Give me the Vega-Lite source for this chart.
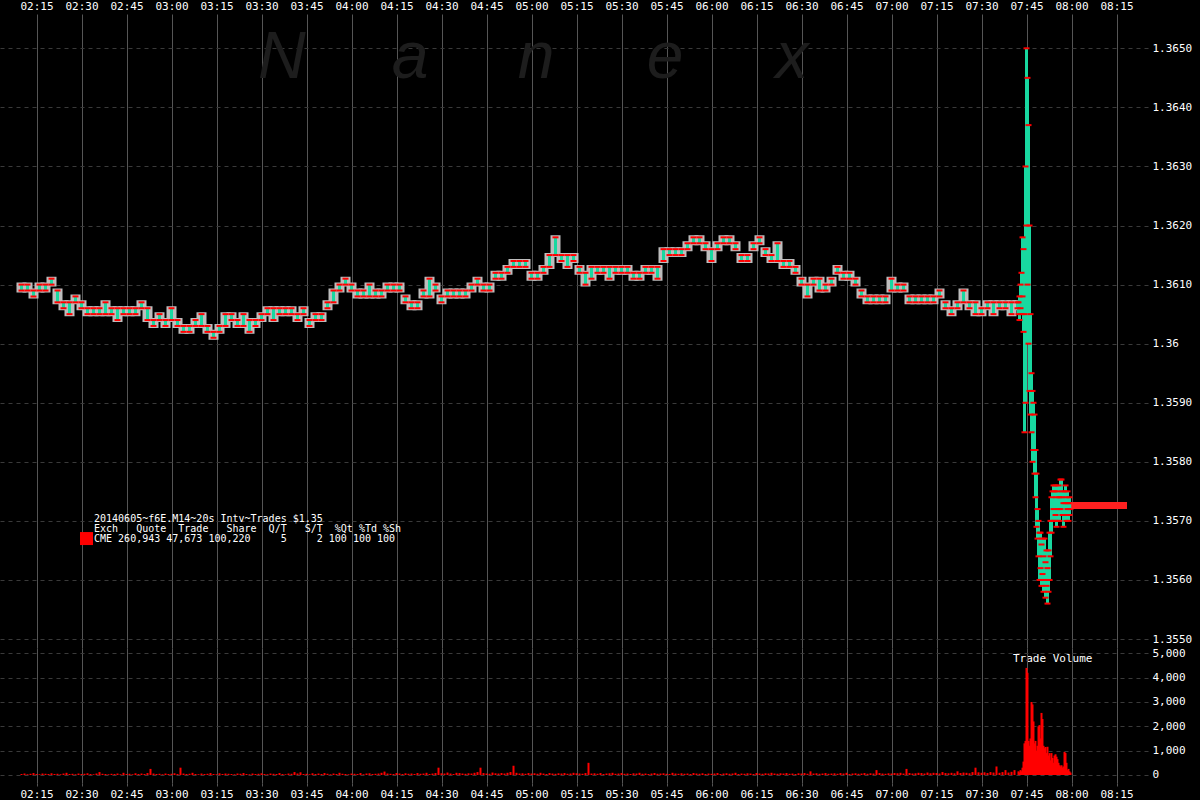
{
"$schema": "https://vega.github.io/schema/vega-lite/v6.json",
"background": "#000000",
"padding": 0,
"autosize": {"type": "pad"},
"spacing": 0,
"bounds": "flush",
"config": {"view": {"stroke": null}, "axis": {"domain": false, "ticks": false, "labelColor": "#ffffff", "labelFont": "DejaVu Sans Mono", "labelFontSize": 11, "labelFlush": false, "labelOverlap": false}},
"resolve": {"scale": {"x": "independent", "y": "independent"}},
"datasets": {
"px": [
{"t":130,"l":1.3609,"h":1.3610},{"t":132,"l":1.3609,"h":1.3610},{"t":134,"l":1.3608,"h":1.3609},{"t":136,"l":1.3609,"h":1.3610},{"t":138,"l":1.3609,"h":1.3610},
{"t":140,"l":1.3610,"h":1.3611},{"t":142,"l":1.3607,"h":1.3609},{"t":144,"l":1.3606,"h":1.3607},{"t":146,"l":1.3605,"h":1.3607},{"t":148,"l":1.3607,"h":1.3608},
{"t":150,"l":1.3606,"h":1.3607},{"t":152,"l":1.3605,"h":1.3606},{"t":154,"l":1.3605,"h":1.3606},{"t":156,"l":1.3605,"h":1.3606},{"t":158,"l":1.3605,"h":1.3607},
{"t":160,"l":1.3605,"h":1.3606},{"t":162,"l":1.3604,"h":1.3606},{"t":164,"l":1.3605,"h":1.3606},{"t":166,"l":1.3605,"h":1.3606},{"t":168,"l":1.3605,"h":1.3606},
{"t":170,"l":1.3606,"h":1.3607},{"t":172,"l":1.3604,"h":1.3606},{"t":174,"l":1.3603,"h":1.3604},{"t":176,"l":1.3604,"h":1.3605},{"t":178,"l":1.3603,"h":1.3604},
{"t":180,"l":1.3604,"h":1.3606},{"t":182,"l":1.3603,"h":1.3604},{"t":184,"l":1.3602,"h":1.3603},{"t":186,"l":1.3602,"h":1.3603},{"t":188,"l":1.3603,"h":1.3604},
{"t":190,"l":1.3603,"h":1.3605},{"t":192,"l":1.3602,"h":1.3603},{"t":194,"l":1.3601,"h":1.3602},{"t":196,"l":1.3602,"h":1.3603},{"t":198,"l":1.3603,"h":1.3605},
{"t":200,"l":1.3604,"h":1.3605},{"t":202,"l":1.3603,"h":1.3604},{"t":204,"l":1.3603,"h":1.3605},{"t":206,"l":1.3602,"h":1.3604},{"t":208,"l":1.3603,"h":1.3604},
{"t":210,"l":1.3604,"h":1.3605},{"t":212,"l":1.3605,"h":1.3606},{"t":214,"l":1.3604,"h":1.3606},{"t":216,"l":1.3605,"h":1.3606},{"t":218,"l":1.3605,"h":1.3606},
{"t":220,"l":1.3605,"h":1.3606},{"t":222,"l":1.3604,"h":1.3605},{"t":224,"l":1.3605,"h":1.3606},{"t":226,"l":1.3603,"h":1.3604},{"t":228,"l":1.3604,"h":1.3605},
{"t":230,"l":1.3604,"h":1.3605},{"t":232,"l":1.3606,"h":1.3607},{"t":234,"l":1.3607,"h":1.3609},{"t":236,"l":1.3609,"h":1.3610},{"t":238,"l":1.3610,"h":1.3611},
{"t":240,"l":1.3609,"h":1.3610},{"t":242,"l":1.3608,"h":1.3609},{"t":244,"l":1.3608,"h":1.3609},{"t":246,"l":1.3608,"h":1.3610},{"t":248,"l":1.3608,"h":1.3609},
{"t":250,"l":1.3608,"h":1.3609},{"t":252,"l":1.3609,"h":1.3610},{"t":254,"l":1.3609,"h":1.3610},{"t":256,"l":1.3609,"h":1.3610},{"t":258,"l":1.3607,"h":1.3608},
{"t":260,"l":1.3606,"h":1.3607},{"t":262,"l":1.3606,"h":1.3607},{"t":264,"l":1.3608,"h":1.3609},{"t":266,"l":1.3608,"h":1.3611},{"t":268,"l":1.3609,"h":1.3610},
{"t":270,"l":1.3607,"h":1.3608},{"t":272,"l":1.3608,"h":1.3609},{"t":274,"l":1.3608,"h":1.3609},{"t":276,"l":1.3608,"h":1.3609},{"t":278,"l":1.3608,"h":1.3609},
{"t":280,"l":1.3609,"h":1.3610},{"t":282,"l":1.3610,"h":1.3611},{"t":284,"l":1.3609,"h":1.3610},{"t":286,"l":1.3609,"h":1.3610},{"t":288,"l":1.3611,"h":1.3612},
{"t":290,"l":1.3611,"h":1.3612},{"t":292,"l":1.3612,"h":1.3613},{"t":294,"l":1.3613,"h":1.3614},{"t":296,"l":1.3613,"h":1.3614},{"t":298,"l":1.3613,"h":1.3614},
{"t":300,"l":1.3611,"h":1.3612},{"t":302,"l":1.3611,"h":1.3612},{"t":304,"l":1.3612,"h":1.3613},{"t":306,"l":1.3613,"h":1.3615},{"t":308,"l":1.3615,"h":1.3618},
{"t":310,"l":1.3614,"h":1.3615},{"t":312,"l":1.3613,"h":1.3615},{"t":314,"l":1.3614,"h":1.3615},{"t":316,"l":1.3612,"h":1.3613},{"t":318,"l":1.3610,"h":1.3612},
{"t":320,"l":1.3611,"h":1.3613},{"t":322,"l":1.3612,"h":1.3613},{"t":324,"l":1.3612,"h":1.3613},{"t":326,"l":1.3611,"h":1.3613},{"t":328,"l":1.3612,"h":1.3613},
{"t":330,"l":1.3612,"h":1.3613},{"t":332,"l":1.3612,"h":1.3613},{"t":334,"l":1.3611,"h":1.3612},{"t":336,"l":1.3611,"h":1.3612},{"t":338,"l":1.3612,"h":1.3613},
{"t":340,"l":1.3612,"h":1.3613},{"t":342,"l":1.3611,"h":1.3613},{"t":344,"l":1.3614,"h":1.3616},{"t":346,"l":1.3615,"h":1.3616},{"t":348,"l":1.3615,"h":1.3616},
{"t":350,"l":1.3615,"h":1.3616},{"t":352,"l":1.3616,"h":1.3617},{"t":354,"l":1.3617,"h":1.3618},{"t":356,"l":1.3617,"h":1.3618},{"t":358,"l":1.3616,"h":1.3617},
{"t":360,"l":1.3614,"h":1.3616},{"t":362,"l":1.3616,"h":1.3617},{"t":364,"l":1.3617,"h":1.3618},{"t":366,"l":1.3617,"h":1.3618},{"t":368,"l":1.3616,"h":1.3617},
{"t":370,"l":1.3614,"h":1.3615},{"t":372,"l":1.3614,"h":1.3615},{"t":374,"l":1.3616,"h":1.3617},{"t":376,"l":1.3617,"h":1.3618},{"t":378,"l":1.3615,"h":1.3616},
{"t":380,"l":1.3614,"h":1.3615},{"t":382,"l":1.3614,"h":1.3617},{"t":384,"l":1.3613,"h":1.3614},{"t":386,"l":1.3613,"h":1.3614},{"t":388,"l":1.3612,"h":1.3613},
{"t":390,"l":1.3610,"h":1.3611},{"t":392,"l":1.3608,"h":1.3610},{"t":394,"l":1.3610,"h":1.3611},{"t":396,"l":1.3609,"h":1.3611},{"t":398,"l":1.3609,"h":1.3610},
{"t":400,"l":1.3610,"h":1.3611},{"t":402,"l":1.3612,"h":1.3613},{"t":404,"l":1.3611,"h":1.3612},{"t":406,"l":1.3611,"h":1.3612},{"t":408,"l":1.3610,"h":1.3611},
{"t":410,"l":1.3608,"h":1.3609},{"t":412,"l":1.3607,"h":1.3608},{"t":414,"l":1.3607,"h":1.3608},{"t":416,"l":1.3607,"h":1.3608},{"t":418,"l":1.3607,"h":1.3608},
{"t":420,"l":1.3609,"h":1.3611},{"t":422,"l":1.3609,"h":1.3610},{"t":424,"l":1.3609,"h":1.3610},{"t":426,"l":1.3607,"h":1.3608},{"t":428,"l":1.3607,"h":1.3608},
{"t":430,"l":1.3607,"h":1.3608},{"t":432,"l":1.3607,"h":1.3608},{"t":434,"l":1.3607,"h":1.3608},{"t":436,"l":1.3608,"h":1.3609},{"t":438,"l":1.3606,"h":1.3607},
{"t":440,"l":1.3605,"h":1.3606},{"t":442,"l":1.3606,"h":1.3607},{"t":444,"l":1.3607,"h":1.3609},{"t":446,"l":1.3606,"h":1.3607},{"t":448,"l":1.3605,"h":1.3607},
{"t":450,"l":1.3605,"h":1.3606},{"t":452,"l":1.3606,"h":1.3607},{"t":454,"l":1.3605,"h":1.3607},{"t":456,"l":1.3606,"h":1.3607},{"t":458,"l":1.3606,"h":1.3607},
{"t":460,"l":1.3605,"h":1.3607},{"t":462,"l":1.3606,"h":1.3607},
{"t":462.33,"l":1.3605,"h":1.3607},{"t":462.67,"l":1.3604,"h":1.3608},{"t":463,"l":1.3606,"h":1.3610},{"t":463.33,"l":1.3605,"h":1.3612},{"t":463.67,"l":1.3608,"h":1.3618},
{"t":464,"l":1.3602,"h":1.3616},{"t":464.33,"l":1.3585,"h":1.3605},{"t":464.67,"l":1.3590,"h":1.3630},{"t":465,"l":1.3620,"h":1.3650},{"t":465.33,"l":1.3610,"h":1.3645},
{"t":465.67,"l":1.3600,"h":1.3637},{"t":466,"l":1.3592,"h":1.3620},{"t":466.33,"l":1.3588,"h":1.3605},{"t":466.67,"l":1.3585,"h":1.3595},{"t":467,"l":1.3580,"h":1.3592},
{"t":467.33,"l":1.3582,"h":1.3590},{"t":467.67,"l":1.3578,"h":1.3588},{"t":468,"l":1.3574,"h":1.3582},{"t":468.33,"l":1.3569,"h":1.3578},{"t":468.67,"l":1.3567,"h":1.3572},
{"t":469,"l":1.3564,"h":1.3570},{"t":469.33,"l":1.3560,"h":1.3568},{"t":469.67,"l":1.3562,"h":1.3568},{"t":470,"l":1.3559,"h":1.3566},{"t":470.33,"l":1.3561,"h":1.3567},
{"t":470.67,"l":1.3558,"h":1.3564},{"t":471,"l":1.3560,"h":1.3567},{"t":471.33,"l":1.3557,"h":1.3563},{"t":471.67,"l":1.3559,"h":1.3565},{"t":472,"l":1.3556,"h":1.3562},
{"t":472.33,"l":1.3558,"h":1.3565},{"t":472.67,"l":1.3560,"h":1.3568},{"t":473,"l":1.3564,"h":1.3570},{"t":473.33,"l":1.3568,"h":1.3574},{"t":473.67,"l":1.3570,"h":1.3575},
{"t":474,"l":1.3572,"h":1.3576},{"t":474.33,"l":1.3570,"h":1.3575},{"t":474.67,"l":1.3571,"h":1.3576},{"t":475,"l":1.3569,"h":1.3574},{"t":475.33,"l":1.3570,"h":1.3575},
{"t":475.67,"l":1.3572,"h":1.3576},{"t":476,"l":1.3570,"h":1.3574},{"t":476.33,"l":1.3572,"h":1.3577},{"t":476.67,"l":1.3574,"h":1.3577},{"t":477,"l":1.3571,"h":1.3575},
{"t":477.33,"l":1.3569,"h":1.3573},{"t":477.67,"l":1.3571,"h":1.3575},{"t":478,"l":1.3573,"h":1.3576},{"t":478.33,"l":1.3570,"h":1.3574},{"t":478.67,"l":1.3572,"h":1.3575},
{"t":479,"l":1.3570,"h":1.3573},{"t":479.33,"l":1.3571,"h":1.3574},{"t":479.67,"l":1.3572,"h":1.3573}
],
"vol": [
{"t":130,"v":40},{"t":131,"v":60},{"t":132,"v":30},{"t":133,"v":50},{"t":134,"v":80},{"t":135,"v":40},{"t":136,"v":30},{"t":137,"v":60},{"t":138,"v":50},{"t":139,"v":40},
{"t":140,"v":70},{"t":141,"v":40},{"t":142,"v":50},{"t":143,"v":30},{"t":144,"v":60},{"t":145,"v":90},{"t":146,"v":40},{"t":147,"v":50},{"t":148,"v":30},{"t":149,"v":60},
{"t":150,"v":40},{"t":151,"v":50},{"t":152,"v":70},{"t":153,"v":40},{"t":154,"v":30},{"t":155,"v":60},{"t":156,"v":120},{"t":157,"v":50},{"t":158,"v":40},{"t":159,"v":30},
{"t":160,"v":50},{"t":161,"v":40},{"t":162,"v":60},{"t":163,"v":30},{"t":164,"v":90},{"t":165,"v":40},{"t":166,"v":50},{"t":167,"v":30},{"t":168,"v":70},{"t":169,"v":40},
{"t":170,"v":60},{"t":171,"v":40},{"t":172,"v":80},{"t":173,"v":250},{"t":174,"v":60},{"t":175,"v":40},{"t":176,"v":50},{"t":177,"v":30},{"t":178,"v":60},{"t":179,"v":40},
{"t":180,"v":50},{"t":181,"v":70},{"t":182,"v":40},{"t":183,"v":300},{"t":184,"v":60},{"t":185,"v":40},{"t":186,"v":50},{"t":187,"v":90},{"t":188,"v":40},{"t":189,"v":30},
{"t":190,"v":60},{"t":191,"v":40},{"t":192,"v":50},{"t":193,"v":80},{"t":194,"v":40},{"t":195,"v":30},{"t":196,"v":70},{"t":197,"v":40},{"t":198,"v":60},{"t":199,"v":50},
{"t":200,"v":40},{"t":201,"v":30},{"t":202,"v":60},{"t":203,"v":50},{"t":204,"v":80},{"t":205,"v":40},{"t":206,"v":30},{"t":207,"v":60},{"t":208,"v":40},{"t":209,"v":50},
{"t":210,"v":70},{"t":211,"v":40},{"t":212,"v":30},{"t":213,"v":60},{"t":214,"v":50},{"t":215,"v":40},{"t":216,"v":80},{"t":217,"v":40},{"t":218,"v":30},{"t":219,"v":60},
{"t":220,"v":50},{"t":221,"v":120},{"t":222,"v":60},{"t":223,"v":110},{"t":224,"v":40},{"t":225,"v":50},{"t":226,"v":30},{"t":227,"v":70},{"t":228,"v":40},{"t":229,"v":60},
{"t":230,"v":40},{"t":231,"v":80},{"t":232,"v":50},{"t":233,"v":30},{"t":234,"v":60},{"t":235,"v":40},{"t":236,"v":90},{"t":237,"v":50},{"t":238,"v":40},{"t":239,"v":30},
{"t":240,"v":60},{"t":241,"v":50},{"t":242,"v":40},{"t":243,"v":80},{"t":244,"v":30},{"t":245,"v":60},{"t":246,"v":70},{"t":247,"v":40},{"t":248,"v":50},{"t":249,"v":60},
{"t":250,"v":90},{"t":251,"v":140},{"t":252,"v":60},{"t":253,"v":50},{"t":254,"v":40},{"t":255,"v":80},{"t":256,"v":60},{"t":257,"v":40},{"t":258,"v":70},{"t":259,"v":50},
{"t":260,"v":60},{"t":261,"v":40},{"t":262,"v":80},{"t":263,"v":50},{"t":264,"v":60},{"t":265,"v":90},{"t":266,"v":40},{"t":267,"v":60},{"t":268,"v":80},{"t":269,"v":300},
{"t":270,"v":70},{"t":271,"v":60},{"t":272,"v":100},{"t":273,"v":60},{"t":274,"v":40},{"t":275,"v":90},{"t":276,"v":80},{"t":277,"v":60},{"t":278,"v":50},{"t":279,"v":70},
{"t":280,"v":60},{"t":281,"v":90},{"t":282,"v":120},{"t":283,"v":300},{"t":284,"v":80},{"t":285,"v":60},{"t":286,"v":50},{"t":287,"v":100},{"t":288,"v":70},{"t":289,"v":60},
{"t":290,"v":80},{"t":291,"v":60},{"t":292,"v":90},{"t":293,"v":120},{"t":294,"v":380},{"t":295,"v":90},{"t":296,"v":60},{"t":297,"v":70},{"t":298,"v":50},{"t":299,"v":80},
{"t":300,"v":60},{"t":301,"v":70},{"t":302,"v":50},{"t":303,"v":90},{"t":304,"v":60},{"t":305,"v":40},{"t":306,"v":80},{"t":307,"v":60},{"t":308,"v":50},{"t":309,"v":70},
{"t":310,"v":60},{"t":311,"v":80},{"t":312,"v":50},{"t":313,"v":60},{"t":314,"v":90},{"t":315,"v":70},{"t":316,"v":60},{"t":317,"v":50},{"t":318,"v":80},{"t":319,"v":500},
{"t":320,"v":60},{"t":321,"v":70},{"t":322,"v":50},{"t":323,"v":80},{"t":324,"v":40},{"t":325,"v":60},{"t":326,"v":70},{"t":327,"v":90},{"t":328,"v":50},{"t":329,"v":60},
{"t":330,"v":80},{"t":331,"v":50},{"t":332,"v":60},{"t":333,"v":40},{"t":334,"v":70},{"t":335,"v":60},{"t":336,"v":90},{"t":337,"v":50},{"t":338,"v":60},{"t":339,"v":40},
{"t":340,"v":60},{"t":341,"v":80},{"t":342,"v":50},{"t":343,"v":60},{"t":344,"v":70},{"t":345,"v":50},{"t":346,"v":40},{"t":347,"v":90},{"t":348,"v":60},{"t":349,"v":50},
{"t":350,"v":70},{"t":351,"v":50},{"t":352,"v":60},{"t":353,"v":40},{"t":354,"v":80},{"t":355,"v":60},{"t":356,"v":50},{"t":357,"v":70},{"t":358,"v":40},{"t":359,"v":60},
{"t":360,"v":50},{"t":361,"v":60},{"t":362,"v":80},{"t":363,"v":40},{"t":364,"v":60},{"t":365,"v":70},{"t":366,"v":50},{"t":367,"v":60},{"t":368,"v":90},{"t":369,"v":40},
{"t":370,"v":60},{"t":371,"v":50},{"t":372,"v":70},{"t":373,"v":60},{"t":374,"v":40},{"t":375,"v":80},{"t":376,"v":60},{"t":377,"v":50},{"t":378,"v":70},{"t":379,"v":60},
{"t":380,"v":90},{"t":381,"v":60},{"t":382,"v":50},{"t":383,"v":70},{"t":384,"v":60},{"t":385,"v":80},{"t":386,"v":50},{"t":387,"v":60},{"t":388,"v":40},{"t":389,"v":70},
{"t":390,"v":60},{"t":391,"v":80},{"t":392,"v":50},{"t":393,"v":150},{"t":394,"v":60},{"t":395,"v":70},{"t":396,"v":50},{"t":397,"v":60},{"t":398,"v":80},{"t":399,"v":50},
{"t":400,"v":60},{"t":401,"v":70},{"t":402,"v":50},{"t":403,"v":80},{"t":404,"v":60},{"t":405,"v":90},{"t":406,"v":40},{"t":407,"v":60},{"t":408,"v":70},{"t":409,"v":50},
{"t":410,"v":60},{"t":411,"v":80},{"t":412,"v":50},{"t":413,"v":70},{"t":414,"v":60},{"t":415,"v":200},{"t":416,"v":80},{"t":417,"v":60},{"t":418,"v":50},{"t":419,"v":70},
{"t":420,"v":60},{"t":421,"v":80},{"t":422,"v":70},{"t":423,"v":90},{"t":424,"v":60},{"t":425,"v":250},{"t":426,"v":80},{"t":427,"v":60},{"t":428,"v":70},{"t":429,"v":90},
{"t":430,"v":80},{"t":431,"v":60},{"t":432,"v":100},{"t":433,"v":70},{"t":434,"v":90},{"t":435,"v":80},{"t":436,"v":60},{"t":437,"v":120},{"t":438,"v":80},{"t":439,"v":70},
{"t":440,"v":90},{"t":441,"v":70},{"t":442,"v":150},{"t":443,"v":80},{"t":444,"v":100},{"t":445,"v":90},{"t":446,"v":70},{"t":447,"v":120},{"t":448,"v":300},{"t":449,"v":110},
{"t":450,"v":90},{"t":451,"v":110},{"t":452,"v":80},{"t":453,"v":120},{"t":454,"v":100},{"t":455,"v":350},{"t":456,"v":90},{"t":457,"v":120},{"t":458,"v":200},{"t":459,"v":100},
{"t":460,"v":130},{"t":461,"v":200},
{"t":462.33,"v":150},{"t":462.67,"v":100},{"t":463,"v":200},{"t":463.33,"v":150},{"t":463.67,"v":300},{"t":464,"v":550},{"t":464.33,"v":1300},{"t":464.67,"v":1400},{"t":465,"v":4400},{"t":465.33,"v":4200},
{"t":465.67,"v":1400},{"t":466,"v":1200},{"t":466.33,"v":1500},{"t":466.67,"v":3000},{"t":467,"v":2900},{"t":467.33,"v":2200},{"t":467.67,"v":1300},{"t":468,"v":1400},{"t":468.33,"v":1000},{"t":468.67,"v":1200},
{"t":469,"v":2000},{"t":469.33,"v":2050},{"t":469.67,"v":1500},{"t":470,"v":2550},{"t":470.33,"v":2300},{"t":470.67,"v":1200},{"t":471,"v":1100},{"t":471.33,"v":1150},{"t":471.67,"v":900},{"t":472,"v":1160},
{"t":472.33,"v":800},{"t":472.67,"v":900},{"t":473,"v":600},{"t":473.33,"v":900},{"t":473.67,"v":700},{"t":474,"v":500},{"t":474.33,"v":800},{"t":474.67,"v":850},{"t":475,"v":750},{"t":475.33,"v":650},
{"t":475.67,"v":500},{"t":476,"v":400},{"t":476.33,"v":350},{"t":476.67,"v":400},{"t":477,"v":300},{"t":477.33,"v":350},{"t":477.67,"v":950},{"t":478,"v":900},{"t":478.33,"v":500},{"t":478.67,"v":200},
{"t":479,"v":250},{"t":479.33,"v":150},{"t":479.67,"v":100}
]
},
"vconcat": [
{
"width": 1148,
"height": 634,
"layer": [
{"data": {"values": [{}]},
 "mark": {"type": "text", "text": "N", "font": "Liberation Sans", "fontStyle": "italic", "fontSize": 66, "color": "#1d1d1d", "align": "center", "baseline": "alphabetic"},
 "encoding": {
  "x": {"datum": 216.8, "type": "quantitative", "title": null, "scale": {"domain": [122.833, 505.5], "nice": false, "zero": false, "padding": 0},
        "axis": {"orient": "top", "values": [135,150,165,180,195,210,225,240,255,270,285,300,315,330,345,360,375,390,405,420,435,450,465,480,495],
                 "labelExpr": "format(floor(datum.value/60),'02d') + ':' + format(datum.value%60,'02d')",
                 "grid": true, "gridColor": "#555555", "gridWidth": 1, "labelPadding": 3, "minExtent": 14, "maxExtent": 14, "title": null}},
  "y": {"datum": 1.3645, "type": "quantitative", "title": null, "scale": {"domain": [1.354848, 1.365581], "nice": false, "zero": false, "padding": 0},
        "axis": {"orient": "right", "values": [1.355,1.356,1.357,1.358,1.359,1.36,1.361,1.362,1.363,1.364,1.365],
                 "labelExpr": "abs(datum.value-1.36)<0.00001 ? '1.36' : format(datum.value,'.4f')",
                 "grid": true, "gridColor": "#3a3a3a", "gridDash": [4,4], "labelPadding": 4, "minExtent": 52, "maxExtent": 52, "title": null}}
 }},
{"data": {"values": [{}]},
 "mark": {"type": "text", "text": "a", "font": "Liberation Sans", "fontStyle": "italic", "fontSize": 66, "color": "#1d1d1d", "align": "center", "baseline": "alphabetic"},
 "encoding": {"x": {"datum": 259.5, "type": "quantitative", "title": null, "scale": {"domain": [122.833, 505.5], "nice": false, "zero": false, "padding": 0}},
              "y": {"datum": 1.3645, "type": "quantitative", "title": null, "scale": {"domain": [1.354848, 1.365581], "nice": false, "zero": false, "padding": 0}}}},
{"data": {"values": [{}]},
 "mark": {"type": "text", "text": "n", "font": "Liberation Sans", "fontStyle": "italic", "fontSize": 66, "color": "#1d1d1d", "align": "center", "baseline": "alphabetic"},
 "encoding": {"x": {"datum": 301.5, "type": "quantitative", "title": null, "scale": {"domain": [122.833, 505.5], "nice": false, "zero": false, "padding": 0}},
              "y": {"datum": 1.3645, "type": "quantitative", "title": null, "scale": {"domain": [1.354848, 1.365581], "nice": false, "zero": false, "padding": 0}}}},
{"data": {"values": [{}]},
 "mark": {"type": "text", "text": "e", "font": "Liberation Sans", "fontStyle": "italic", "fontSize": 66, "color": "#1d1d1d", "align": "center", "baseline": "alphabetic"},
 "encoding": {"x": {"datum": 344.5, "type": "quantitative", "title": null, "scale": {"domain": [122.833, 505.5], "nice": false, "zero": false, "padding": 0}},
              "y": {"datum": 1.3645, "type": "quantitative", "title": null, "scale": {"domain": [1.354848, 1.365581], "nice": false, "zero": false, "padding": 0}}}},
{"data": {"values": [{}]},
 "mark": {"type": "text", "text": "x", "font": "Liberation Sans", "fontStyle": "italic", "fontSize": 66, "color": "#1d1d1d", "align": "center", "baseline": "alphabetic"},
 "encoding": {"x": {"datum": 386.8, "type": "quantitative", "title": null, "scale": {"domain": [122.833, 505.5], "nice": false, "zero": false, "padding": 0}},
              "y": {"datum": 1.3645, "type": "quantitative", "title": null, "scale": {"domain": [1.354848, 1.365581], "nice": false, "zero": false, "padding": 0}}}},
{"data": {"name": "px"},
 "transform": [{"filter": "datum.t < 462.2"}],
 "mark": {"type": "bar", "width": 6, "color": "#bdbdbd", "stroke": "#bdbdbd", "strokeWidth": 4},
 "encoding": {"x": {"field": "t", "type": "quantitative", "title": null, "scale": {"domain": [122.833, 505.5], "nice": false, "zero": false, "padding": 0}},
              "y": {"field": "l", "type": "quantitative", "title": null, "scale": {"domain": [1.354848, 1.365581], "nice": false, "zero": false, "padding": 0}},
              "y2": {"field": "h"}}},
{"data": {"name": "px"},
 "mark": {"type": "bar", "width": 3, "color": "#18d8a0"},
 "encoding": {"x": {"field": "t", "type": "quantitative", "title": null, "scale": {"domain": [122.833, 505.5], "nice": false, "zero": false, "padding": 0}},
              "y": {"field": "l", "type": "quantitative", "title": null, "scale": {"domain": [1.354848, 1.365581], "nice": false, "zero": false, "padding": 0}},
              "y2": {"field": "h"}}},
{"data": {"name": "px"},
 "mark": {"type": "tick", "orient": "horizontal", "size": 6, "thickness": 2, "color": "#ff0000", "opacity": 1},
 "encoding": {"x": {"field": "t", "type": "quantitative", "title": null, "scale": {"domain": [122.833, 505.5], "nice": false, "zero": false, "padding": 0}},
              "y": {"field": "l", "type": "quantitative", "title": null, "scale": {"domain": [1.354848, 1.365581], "nice": false, "zero": false, "padding": 0}}}},
{"data": {"name": "px"},
 "mark": {"type": "tick", "orient": "horizontal", "size": 6, "thickness": 2, "color": "#ff0000", "opacity": 1},
 "encoding": {"x": {"field": "t", "type": "quantitative", "title": null, "scale": {"domain": [122.833, 505.5], "nice": false, "zero": false, "padding": 0}},
              "y": {"field": "h", "type": "quantitative", "title": null, "scale": {"domain": [1.354848, 1.365581], "nice": false, "zero": false, "padding": 0}}}},
{"data": {"values": [{}]},
 "mark": {"type": "rule", "color": "#ff2020", "strokeWidth": 7},
 "encoding": {"x": {"datum": 479.9, "type": "quantitative", "title": null, "scale": {"domain": [122.833, 505.5], "nice": false, "zero": false, "padding": 0}},
              "x2": {"datum": 498.5},
              "y": {"datum": 1.35726, "type": "quantitative", "title": null, "scale": {"domain": [1.354848, 1.365581], "nice": false, "zero": false, "padding": 0}}}},
{"data": {"values": [{}]},
 "mark": {"type": "text", "text": "20140605~f6E.M14~20s\u00a0Intv~Trades\u00a0$1.35", "font": "DejaVu Sans Mono", "fontSize": 10, "color": "#ffffff", "align": "left", "baseline": "middle"},
 "encoding": {"x": {"datum": 154.17, "type": "quantitative", "title": null, "scale": {"domain": [122.833, 505.5], "nice": false, "zero": false, "padding": 0}},
              "y": {"datum": 1.357031, "type": "quantitative", "title": null, "scale": {"domain": [1.354848, 1.365581], "nice": false, "zero": false, "padding": 0}}}},
{"data": {"values": [{}]},
 "mark": {"type": "text", "text": "Exch\u00a0\u00a0\u00a0Quote\u00a0\u00a0Trade\u00a0\u00a0\u00a0Share\u00a0\u00a0Q/T\u00a0\u00a0\u00a0S/T\u00a0\u00a0%Qt\u00a0%Td\u00a0%Sh", "font": "DejaVu Sans Mono", "fontSize": 10, "color": "#ffffff", "align": "left", "baseline": "middle"},
 "encoding": {"x": {"datum": 154.17, "type": "quantitative", "title": null, "scale": {"domain": [122.833, 505.5], "nice": false, "zero": false, "padding": 0}},
              "y": {"datum": 1.356862, "type": "quantitative", "title": null, "scale": {"domain": [1.354848, 1.365581], "nice": false, "zero": false, "padding": 0}}}},
{"data": {"values": [{}]},
 "mark": {"type": "text", "text": "\u00a0CME\u00a0260,943\u00a047,673\u00a0100,220\u00a0\u00a0\u00a0\u00a0\u00a05\u00a0\u00a0\u00a0\u00a0\u00a02\u00a0100\u00a0100\u00a0100", "font": "DejaVu Sans Mono", "fontSize": 10, "color": "#ffffff", "align": "left", "baseline": "middle"},
 "encoding": {"x": {"datum": 154.17, "type": "quantitative", "title": null, "scale": {"domain": [122.833, 505.5], "nice": false, "zero": false, "padding": 0}},
              "y": {"datum": 1.356693, "type": "quantitative", "title": null, "scale": {"domain": [1.354848, 1.365581], "nice": false, "zero": false, "padding": 0}}}},
{"data": {"values": [{}]},
 "mark": {"type": "point", "shape": "square", "filled": true, "size": 169, "color": "#ff0000", "opacity": 1},
 "encoding": {"x": {"datum": 151.67, "type": "quantitative", "title": null, "scale": {"domain": [122.833, 505.5], "nice": false, "zero": false, "padding": 0}},
              "y": {"datum": 1.356701, "type": "quantitative", "title": null, "scale": {"domain": [1.354848, 1.365581], "nice": false, "zero": false, "padding": 0}}}},
{"data": {"values": [{}]},
 "mark": {"type": "text", "text": "Trade Volume", "font": "DejaVu Sans Mono", "fontSize": 11, "color": "#ffffff", "align": "left", "baseline": "middle"},
 "encoding": {"x": {"datum": 460.5, "type": "quantitative", "title": null, "scale": {"domain": [122.833, 505.5], "nice": false, "zero": false, "padding": 0}},
              "y": {"datum": 1.35466, "type": "quantitative", "title": null, "scale": {"domain": [1.354848, 1.365581], "nice": false, "zero": false, "padding": 0}}}}
]
},
{
"width": 1148,
"height": 135,
"data": {"name": "vol"},
"mark": {"type": "bar", "width": 2, "color": "#ff0000"},
"encoding": {
 "x": {"field": "t", "type": "quantitative", "title": null, "scale": {"domain": [122.833, 505.5], "nice": false, "zero": false, "padding": 0},
       "axis": {"orient": "bottom", "values": [135,150,165,180,195,210,225,240,255,270,285,300,315,330,345,360,375,390,405,420,435,450,465,480,495],
                "labelExpr": "format(floor(datum.value/60),'02d') + ':' + format(datum.value%60,'02d')",
                "grid": true, "gridColor": "#555555", "gridWidth": 1, "ticks": true, "tickColor": "#555555", "tickSize": 3, "labelPadding": 2, "minExtent": 17, "maxExtent": 17, "title": null}},
 "y": {"field": "v", "type": "quantitative", "title": null, "scale": {"domain": [-329, 5218], "nice": false, "zero": false, "padding": 0},
       "axis": {"orient": "right", "values": [0,1000,2000,3000,4000,5000], "labelExpr": "format(datum.value, ',')",
                "grid": true, "gridColor": "#3a3a3a", "gridDash": [4,4], "labelPadding": 4, "minExtent": 52, "maxExtent": 52, "title": null}},
 "y2": {"datum": 0}
}
}
]
}
